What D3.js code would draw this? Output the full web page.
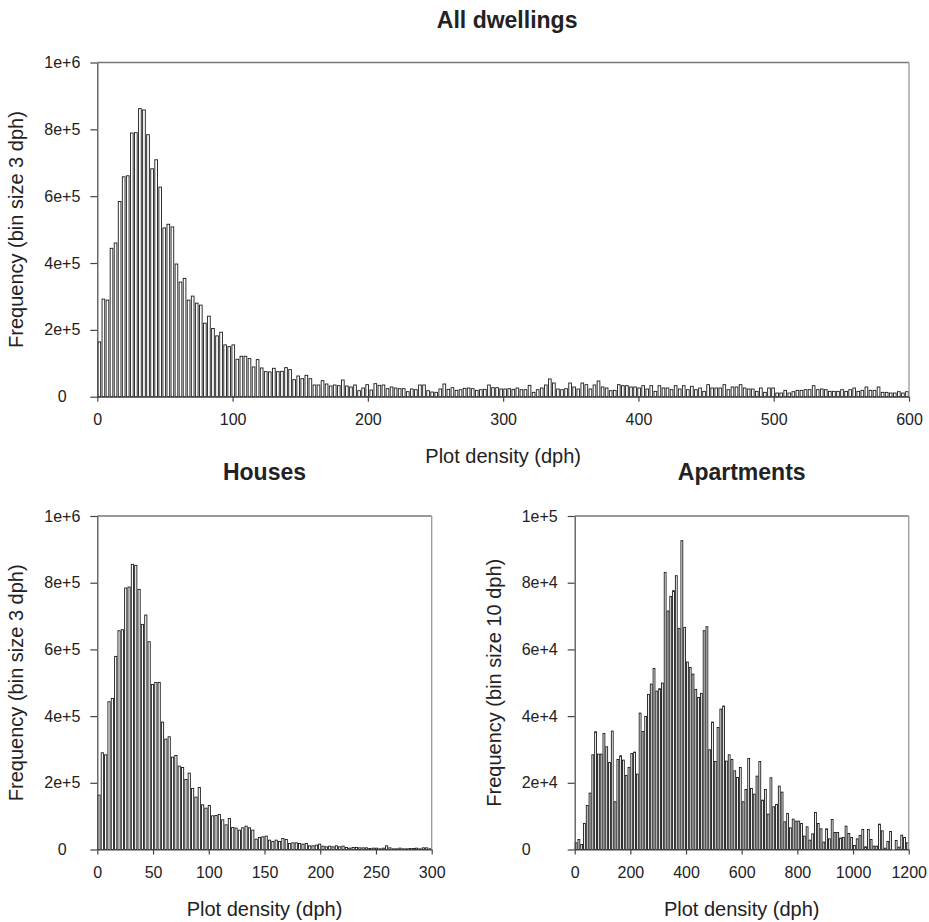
<!DOCTYPE html>
<html><head><meta charset="utf-8">
<script src="https://cdn.jsdelivr.net/npm/d3@7"></script>
<style>
body{margin:0;background:#fff}
text{font-family:"Liberation Sans",Arial,Helvetica,sans-serif;fill:#222}
</style>
</head><body>
<svg id="chart" width="929" height="922"></svg>
<script>
// ---------- DATA ----------
// All dwellings: frequency per 3 dph bin, 0-600 dph (200 bins)
const allDwellings = [
164000,292000,289000,444000,460000,584000,658000,661000,789000,790000,
862000,858000,784000,682000,709000,627000,505000,516000,508000,397000,
343000,354000,289000,301000,280000,274000,220000,241000,204000,182000,
193000,155000,150000,155000,112000,121000,121000,114000,89000,111000,
86000,75000,74000,85000,75000,
76000,87000,81000,51000,62000,54000,64000,54000,35000,35000,
48000,38000,32000,35000,33000,50000,32000,29000,35000,18000,
26000,36000,20000,39000,34000,35000,24000,29000,26000,24000,
24000,15000,23000,21000,35000,35000,18000,14000,13000,23000,
38000,22000,27000,19000,21000,25000,26000,24000,19000,21000,
22000,35000,27000,27000,23000,23000,24000,22000,26000,21000,
21000,34000,13000,21000,26000,35000,53000,41000,23000,21000,
24000,41000,29000,23000,41000,36000,23000,35000,47000,29000,
26000,18000,
19000,36000,33000,33000,29000,29000,26000,33000,23000,33000,
16000,33000,26000,26000,21000,33000,23000,33000,21000,31000,
21000,26000,16000,36000,26000,26000,26000,36000,21000,29000,
29000,36000,26000,23000,23000,16000,26000,13000,26000,26000,
11000,11000,19000,11000,15000,19000,19000,21000,21000,33000,
21000,23000,21000,16000,16000,16000,21000,16000,21000,26000,
16000,19000,29000,19000,19000,29000,13000,13000,11000,11000,
15000,11000,15000
];
// Houses: frequency per 3 dph bin, 0-300 dph (100 bins)
const houses = [
163000,290000,284000,443000,453000,579000,656000,659000,784000,787000,
855000,852000,780000,675000,703000,623000,495000,501000,501000,382000,
331000,338000,277000,282000,250000,246000,210000,229000,183000,157000,
186000,134000,124000,132000,101000,102000,105000,89000,74000,93000,
66000,64000,58000,65000,70000,65000,58000,31000,36000,
38000,40000,28000,24000,28000,24000,33000,30000,18000,20000,
20000,18000,16000,18000,11000,11000,13000,16000,10000,8000,
10000,8000,11000,8000,10000,6000,4000,6000,6000,5000,
5000,5000,3000,4000,4000,2000,4000,11000,5000,2000,
2000,4000,2000,2000,3000,3000,4000,2000,5000,5000,2000
];
// Apartments: frequency per 10 dph bin, 0-1200 dph (120 bins)
const apartments = [
2000,3000,1500,7800,13200,16900,28400,35300,28600,28600,
34800,30800,26100,35500,14300,27000,28100,26800,22200,24600,
28800,29200,22600,40900,35400,39900,46500,49600,54300,47500,
48200,49900,83100,71500,75900,77600,82100,66300,92600,66600,
56200,54600,52600,48000,45600,46800,65600,66800,29900,38200,
26400,36600,42100,43000,26500,28400,27000,23600,21600,24600,
14300,18000,27300,18300,16600,22000,26400,14800,18000,10600,
21500,12800,13500,19000,17200,8300,10800,6500,9100,8500,
8500,7800,4000,6800,2800,4700,11100,7800,6200,2200,
6200,3200,9000,5100,5100,3400,3600,7000,4800,3600,
1200,3200,4200,6000,800,6000,3000,1000,1000,7600,
5600,400,2400,5400,0,2700,700,4300,3600,2000
];

const binAll = 3, binHouses = 3, binApt = 10;

const xTicksAll = [0,100,200,300,400,500,600];
const xTicksHouses = [0,50,100,150,200,250,300];
const xTicksApt = [0,200,400,600,800,1000,1200];

const yTicksMillion = [0,200000,400000,600000,800000,1000000];
const yTickLabelsMillion = ["0","2e+5","4e+5","6e+5","8e+5","1e+6"];
const yTicksApt = [0,20000,40000,60000,80000,100000];
const yTickLabelsApt = ["0","2e+4","4e+4","6e+4","8e+4","1e+5"];

const titles = ["All dwellings","Houses","Apartments"];
const xLabel = "Plot density (dph)";
const yLabels = ["Frequency (bin size 3 dph)","Frequency (bin size 3 dph)","Frequency (bin size 10 dph)"];

// ---------- DRAW ----------
const svg = d3.select("#chart");

function panel(p){
  const x = d3.scaleLinear().domain(p.xDomain).range([p.left, p.right]);
  const y = d3.scaleLinear().domain(p.yDomain).range([p.bottom, p.top]);
  const g = svg.append("g");
  const bw = x(p.bin) - x(0);
  const barW = bw * 0.66;

  g.selectAll("rect.bar").data(p.values).join("rect")
    .attr("class","bar")
    .attr("x", (d,i) => x(i*p.bin + p.bin/2) - barW/2)
    .attr("y", d => y(d))
    .attr("width", barW)
    .attr("height", d => y(0) - y(d))
    .attr("fill", "#fff")
    .attr("stroke", "#1a1a1a")
    .attr("stroke-width", 0.9);

  // frame top and right
  g.append("line").attr("x1", p.left).attr("x2", p.right).attr("y1", y(p.yDomain[1])).attr("y2", y(p.yDomain[1]))
    .attr("stroke","#777").attr("stroke-width",1.3);
  g.append("line").attr("x1", p.right).attr("x2", p.right).attr("y1", p.top).attr("y2", p.bottom)
    .attr("stroke","#999").attr("stroke-width",1.3);

  // y axis
  const ya = g.append("g").attr("transform", `translate(${p.left},0)`)
    .call(d3.axisLeft(y).tickValues(p.yTicks).tickFormat((d,i)=>p.yTickLabels[i]).tickSize(7).tickSizeOuter(0));
  ya.select(".domain").attr("stroke","#444").attr("stroke-width",1.2);
  ya.selectAll(".tick line").attr("stroke","#444").attr("stroke-width",1.2);
  ya.selectAll(".tick text").attr("text-anchor",p.yLabAnchor).attr("x",p.yLabX)
    .style("font-size","16px").style("font-family","'Liberation Sans',Arial,sans-serif").attr("fill","#222");

  // x axis
  const xa = g.append("g").attr("transform", `translate(0,${p.bottom})`)
    .call(d3.axisBottom(x).tickValues(p.xTicks).tickFormat(d3.format("d")).tickSize(5).tickSizeOuter(0));
  xa.select(".domain").attr("stroke","#444").attr("stroke-width",1.2);
  xa.selectAll(".tick line").attr("stroke","#444").attr("stroke-width",1.2);
  xa.selectAll(".tick text").attr("y",17)
    .style("font-size","16px").style("font-family","'Liberation Sans',Arial,sans-serif").attr("fill","#222");

  // title
  svg.append("text").attr("x", (p.left+p.right)/2 + p.titleDx).attr("y", p.titleY)
    .attr("text-anchor","middle").style("font-size","23px").style("font-weight","bold")
    .attr("fill","#1a1a1a").text(p.title);
  // x label
  svg.append("text").attr("x", (p.left+p.right)/2).attr("y", p.bottom + 66)
    .attr("text-anchor","middle").style("font-size","20px").text(xLabel);
  // y label
  svg.append("text").attr("transform", `translate(${p.left - 74},${(p.top+p.bottom)/2}) rotate(-90)`)
    .attr("text-anchor","middle").style("font-size","20px").text(p.yLabel);
}

panel({left:97.3, right:909, top:62.5, bottom:396.7, xDomain:[0,600], yDomain:[0,1000000],
  bin:binAll, values:allDwellings, xTicks:xTicksAll, yTicks:yTicksMillion, yTickLabels:yTickLabelsMillion,
  yLabAnchor:"middle", yLabX:-35,
  title:titles[0], titleY:28, titleDx:4, yLabel:yLabels[0]});
panel({left:97.3, right:431.7, top:516, bottom:849.5, xDomain:[0,300], yDomain:[0,1000000],
  bin:binHouses, values:houses, xTicks:xTicksHouses, yTicks:yTicksMillion, yTickLabels:yTickLabelsMillion,
  yLabAnchor:"middle", yLabX:-35,
  title:titles[1], titleY:480, titleDx:0, yLabel:yLabels[1]});
panel({left:574.7, right:908.7, top:516, bottom:849.5, xDomain:[0,1200], yDomain:[0,100000],
  bin:binApt, values:apartments, xTicks:xTicksApt, yTicks:yTicksApt, yTickLabels:yTickLabelsApt,
  yLabAnchor:"start", yLabX:-53,
  title:titles[2], titleY:480, titleDx:0, yLabel:yLabels[2]});
</script>
</body></html>
